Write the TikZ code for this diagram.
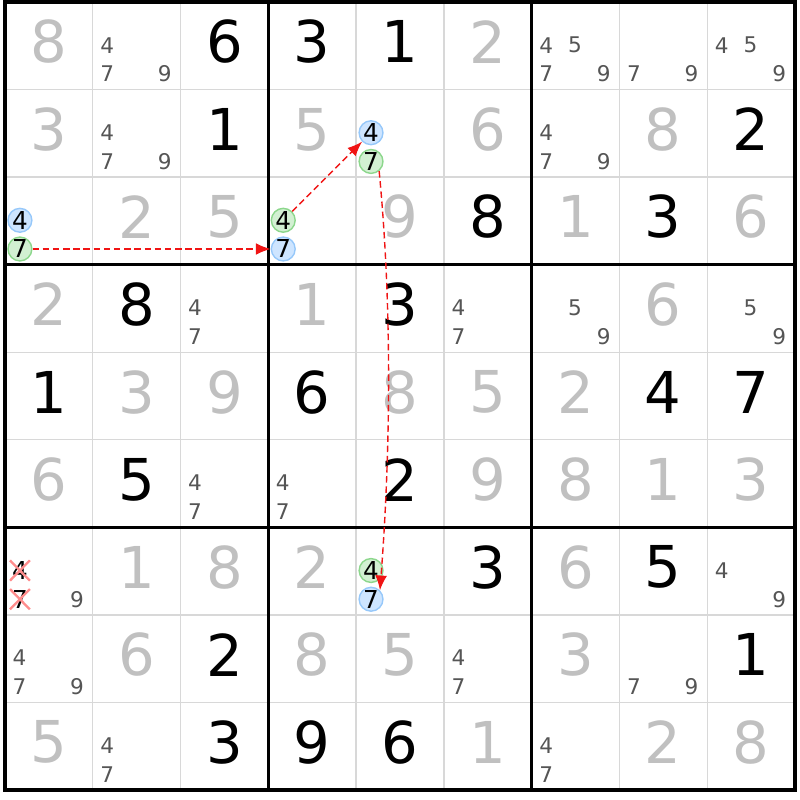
\documentclass[tikz,border=0pt]{standalone}
\usepackage{fontspec}
\setmainfont{DejaVu Sans}
\usepackage{xcolor}
\usepackage{tikz}
\usetikzlibrary{arrows.meta,shapes.misc}

\definecolor{solvedgray}{RGB}{192,192,192}
\definecolor{candgray}{RGB}{85,85,85}
\definecolor{linegray}{RGB}{216,216,216}
\definecolor{hlblue}{RGB}{206,229,255}
\definecolor{hlblueline}{RGB}{150,200,250}
\definecolor{hlgreen}{RGB}{210,240,210}
\definecolor{hlgreenline}{RGB}{140,215,140}
\definecolor{crossred}{RGB}{255,140,140}
\definecolor{linkred}{RGB}{240,20,20}

\tikzset{
	given/.style={font=\fontsize{18.7}{20}\selectfont, text=black, inner sep=0pt},
	solved/.style={given, text=solvedgray},
	cand/.style={font=\fontsize{7}{8}\selectfont, text=candgray, inner sep=0pt},
	bluecand/.style={circle, draw=hlblueline, fill=hlblue, line width=0.45pt, minimum size=0.265cm, inner sep=0pt, font=\fontsize{8}{9}\selectfont},
	greencand/.style={bluecand, draw=hlgreenline, fill=hlgreen},
	crossed/.style={cross out, draw=crossred, line width=0.75pt, minimum width=0.2cm, minimum height=0.18cm, inner sep=0pt, font=\fontsize{8}{9}\selectfont},
	thinline/.style={linegray, line width=0.4pt},
	boxline/.style={black, line width=1pt},
	link/.style={linkred, line width=0.45pt, dash pattern=on 2.1pt off 1.2pt, -{Latex[length=4.8pt,width=3.8pt]}}
}

\begin{document}
\begin{tikzpicture}[x=1cm, y=0.9975cm]
	\fill[white] (-0.057,-0.114) rectangle (9.057,9.023);
	\useasboundingbox (-0.057,-0.114) rectangle (9.057,9.023);

	\foreach \i in {1,2,4,5,7,8} {
		\draw[thinline] (\i,0) -- (\i,9);
		\draw[thinline] (0,\i) -- (9,\i);
	}
	\foreach \i in {3,6} {
		\draw[boxline] (\i,0) -- (\i,9);
		\draw[boxline] (0,\i) -- (9,\i);
	}
	\draw[boxline] (0,0) rectangle (9,9);

	\foreach \r/\c/\d in {0/2/6, 0/3/3, 0/4/1, 1/2/1, 1/8/2, 2/5/8, 2/7/3, 3/1/8, 3/4/3,
		4/0/1, 4/3/6, 4/7/4, 4/8/7, 5/1/5, 5/4/2, 6/5/3, 6/7/5, 7/2/2, 7/8/1,
		8/2/3, 8/3/9, 8/4/6}
		\node[given] (g\r\c) at (\c+0.5,8.545-\r) {\d};

	\foreach \r/\c/\d in {0/0/8, 0/5/2, 1/0/3, 1/3/5, 1/5/6, 1/7/8, 2/1/2, 2/2/5, 2/4/9,
		2/6/1, 2/8/6, 3/0/2, 3/3/1, 3/7/6, 4/1/3, 4/2/9, 4/4/8, 4/5/5, 4/6/2,
		5/0/6, 5/5/9, 5/6/8, 5/7/1, 5/8/3, 6/1/1, 6/2/8, 6/3/2, 6/6/6,
		7/1/6, 7/3/8, 7/4/5, 7/6/3, 8/0/5, 8/5/1, 8/7/2, 8/8/8}
		\node[solved] (s\r\c) at (\c+0.5,8.545-\r) {\d};

	\foreach \r/\c/\ds in {0/1/{4,7,9}, 0/6/{4,5,7,9}, 0/7/{7,9}, 0/8/{4,5,9},
		1/1/{4,7,9}, 1/6/{4,7,9}, 3/2/{4,7}, 3/5/{4,7}, 3/6/{5,9}, 3/8/{5,9},
		5/2/{4,7}, 5/3/{4,7}, 6/0/{9}, 6/8/{4,9}, 7/0/{4,7,9}, 7/5/{4,7},
		7/7/{7,9}, 8/1/{4,7}, 8/6/{4,7}} {
		\foreach \d in \ds {
			\pgfmathsetmacro{\cx}{\c+0.165+0.328*mod(\d-1,3)}
			\pgfmathsetmacro{\cy}{8.835-\r-0.328*int((\d-1)/3)}
			\node[cand] (c\r\c\d) at (\cx,\cy) {\d};
		}
	}

	\node[bluecand] (a4) at (0.17,6.507) {4};
	\node[greencand] (a7) at (0.17,6.179) {7};
	\node[greencand] (b4) at (3.17,6.507) {4};
	\node[bluecand] (b7) at (3.17,6.179) {7};
	\node[bluecand] (e4) at (4.17,7.507) {4};
	\node[greencand] (e7) at (4.17,7.179) {7};
	\node[greencand] (d4) at (4.17,2.507) {4};
	\node[bluecand] (d7) at (4.17,2.179) {7};

	\node[crossed] (x4) at (0.17,2.507) {4};
	\node[crossed] (x7) at (0.17,2.179) {7};

	\draw[link] (a7) -- (b7);
	\draw[link] (b4) -- (e4);
	\draw[link] (e7.-50) .. controls +(0.15,-1.56) and +(0.12,1.575) .. (d7.45);
\end{tikzpicture}
\end{document}
